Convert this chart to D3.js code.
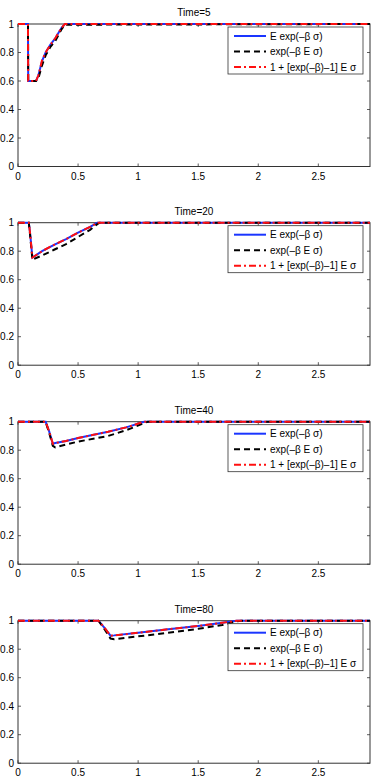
<!DOCTYPE html>
<html>
<head>
<meta charset="utf-8">
<script src="https://cdn.jsdelivr.net/npm/d3@7"></script>
<style>
  body { margin: 0; background: #fff; }
  svg { display: block; font-family: "Liberation Sans", Arial, Helvetica, sans-serif; }
</style>
</head>
<body>
<div id="chart"></div>
<script>
const titles = ["Time=5", "Time=20", "Time=40", "Time=80"];
const legendLabels = ["E exp(\u2013\u03b2 \u03c3)", "exp(\u2013\u03b2 E \u03c3)", "1 + [exp(\u2013\u03b2)\u20131] E \u03c3"];
const xTicks = [0, 0.5, 1, 1.5, 2, 2.5];
const yTicks = [0, 0.2, 0.4, 0.6, 0.8, 1];

// Time=5
const x5 = [0, 0.083, 0.085, 0.15, 0.17, 0.2, 0.23, 0.27, 0.31, 0.36, 0.39, 2.93];
const blue5 = [1, 1, 0.6, 0.6, 0.64, 0.74, 0.8, 0.855, 0.9, 0.97, 1, 1];
const black5 = [1, 1, 0.6, 0.6, 0.62, 0.71, 0.78, 0.84, 0.88, 0.96, 0.995, 1];
const red5 = [1, 1, 0.6, 0.6, 0.64, 0.745, 0.8, 0.855, 0.9, 0.97, 1, 1];

// Time=20
const x20 = [0, 0.09, 0.1, 0.12, 0.2, 0.3, 0.4, 0.5, 0.6, 0.66, 0.68, 2.93];
const blue20 = [1, 1, 0.93, 0.755, 0.8, 0.845, 0.885, 0.93, 0.97, 1, 1, 1];
const black20 = [1, 1, 0.92, 0.74, 0.77, 0.81, 0.85, 0.9, 0.95, 0.99, 1, 1];
const red20 = [1, 1, 0.93, 0.755, 0.8, 0.845, 0.885, 0.93, 0.97, 1, 1, 1];

// Time=40
const x40 = [0, 0.23, 0.26, 0.29, 0.31, 0.4, 0.5, 0.75, 0.9, 1.05, 1.08, 2.93];
const blue40 = [1, 1, 0.93, 0.845, 0.85, 0.865, 0.885, 0.93, 0.96, 1, 1, 1];
const black40 = [1, 1, 0.92, 0.83, 0.82, 0.84, 0.86, 0.9, 0.94, 0.99, 1, 1];
const red40 = [1, 1, 0.93, 0.845, 0.85, 0.865, 0.885, 0.93, 0.96, 1, 1, 1];

// Time=80
const x80 = [0, 0.67, 0.72, 0.77, 0.8, 1, 1.25, 1.5, 1.7, 1.82, 1.86, 2.93];
const blue80 = [1, 1, 0.95, 0.895, 0.897, 0.915, 0.94, 0.963, 0.985, 1, 1, 1];
const black80 = [1, 1, 0.94, 0.875, 0.87, 0.89, 0.915, 0.943, 0.97, 0.995, 1, 1];
const red80 = [1, 1, 0.95, 0.895, 0.897, 0.915, 0.94, 0.963, 0.985, 1, 1, 1];

const panels = [
  { x: x5, series: [blue5, black5, red5] },
  { x: x20, series: [blue20, black20, red20] },
  { x: x40, series: [blue40, black40, red40] },
  { x: x80, series: [blue80, black80, red80] }
];

const width = 374, height = 777;
const left = 18, right = 370;
const tops = [24, 222.7, 421.7, 620.7];
const plotH = 142.5;

const styles = [
  { color: "#1a35ff", dash: null },
  { color: "#000", dash: "6,4" },
  { color: "#ff1010", dash: "7,3,2,3" }
];

const svg = d3.select("#chart").append("svg")
  .attr("width", width)
  .attr("height", height);

const x = d3.scaleLinear().domain([0, 2.93]).range([left, right]);

panels.forEach((p, k) => {
  const top = tops[k];
  const y = d3.scaleLinear().domain([0, 1]).range([top + plotH, top]);
  const g = svg.append("g");

  const defs = g.append("clipPath").attr("id", "clip" + k)
    .append("rect")
    .attr("x", left - 2).attr("y", top - 2)
    .attr("width", right - left + 4).attr("height", plotH + 4);

  // ticks inside on all four sides
  const ax = g.append("g").attr("stroke", "#333").attr("stroke-width", 0.8);
  xTicks.forEach(t => {
    ax.append("line").attr("x1", x(t)).attr("x2", x(t)).attr("y1", top + plotH).attr("y2", top + plotH - 3);
    ax.append("line").attr("x1", x(t)).attr("x2", x(t)).attr("y1", top).attr("y2", top + 3);
  });
  yTicks.forEach(t => {
    ax.append("line").attr("x1", left).attr("x2", left + 3).attr("y1", y(t)).attr("y2", y(t));
    ax.append("line").attr("x1", right).attr("x2", right - 3).attr("y1", y(t)).attr("y2", y(t));
  });

  g.append("rect")
    .attr("x", left).attr("y", top)
    .attr("width", right - left).attr("height", plotH)
    .attr("fill", "none").attr("stroke", "#333").attr("stroke-width", 1);

  g.selectAll(".xl").data(xTicks).enter().append("text")
    .attr("x", d => x(d)).attr("y", top + plotH + 13)
    .attr("text-anchor", "middle").attr("font-size", "10px")
    .text(d => d);

  g.selectAll(".yl").data(yTicks).enter().append("text")
    .attr("x", left - 4).attr("y", d => y(d) + 3.5)
    .attr("text-anchor", "end").attr("font-size", "10px")
    .text(d => d);

  g.append("text")
    .attr("x", (left + right) / 2).attr("y", top - 8)
    .attr("text-anchor", "middle").attr("font-size", "10px")
    .text(titles[k]);

  const line = d3.line().x((d, i) => x(p.x[i])).y(d => y(d));

  p.series.forEach((s, i) => {
    g.append("path")
      .attr("d", line(s))
      .attr("clip-path", "url(#clip" + k + ")")
      .attr("fill", "none")
      .attr("stroke", styles[i].color)
      .attr("stroke-width", 2)
      .attr("stroke-dasharray", styles[i].dash);
  });

  // legend
  const lg = g.append("g");
  lg.append("rect")
    .attr("x", 228).attr("y", top + 3)
    .attr("width", 135).attr("height", 47)
    .attr("fill", "#fff").attr("stroke", "#333").attr("stroke-width", 0.8);
  legendLabels.forEach((lab, i) => {
    const ly = top + 12 + i * 15.5;
    lg.append("line")
      .attr("x1", 234).attr("x2", 266).attr("y1", ly).attr("y2", ly)
      .attr("stroke", styles[i].color).attr("stroke-width", 2)
      .attr("stroke-dasharray", styles[i].dash);
    lg.append("text")
      .attr("x", 270).attr("y", ly + 3.5)
      .attr("font-size", "10px")
      .text(lab);
  });
});
</script>
</body>
</html>
